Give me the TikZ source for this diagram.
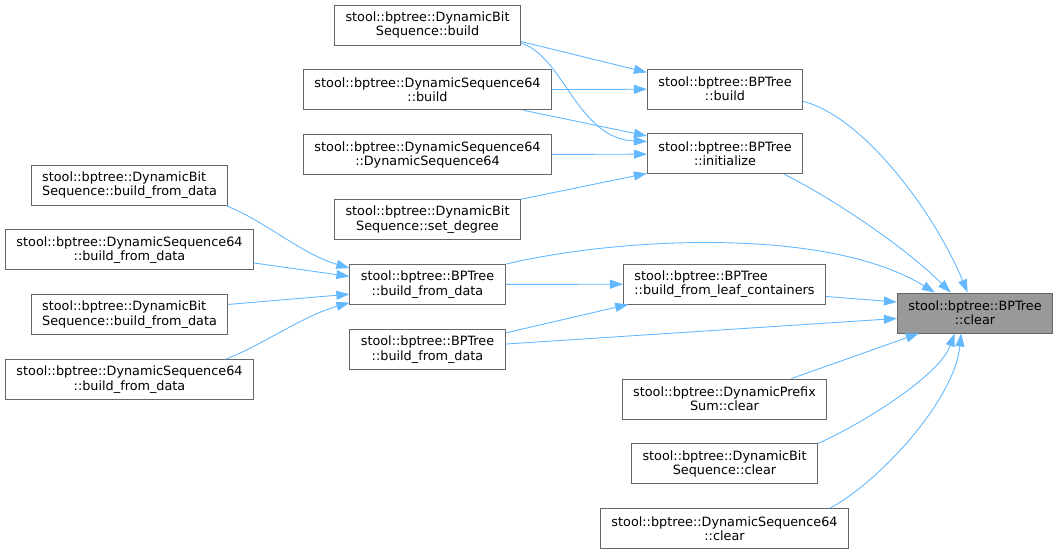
\documentclass[tikz,border=0pt]{standalone}
\usepackage{fontspec}
\setmainfont{DejaVu Sans}
\usetikzlibrary{positioning,arrows.meta}
\definecolor{nodeborder}{gray}{0.4}
\definecolor{selffill}{gray}{0.6}
\definecolor{callblue}{RGB}{99,184,255}

\begin{document}
\begin{tikzpicture}[x=1pt,y=-1pt,node distance=24pt,
  fn/.style={draw=nodeborder,fill=white,line width=0.9pt,minimum height=40pt,
    inner xsep=11pt,inner ysep=2pt,align=center,
    font=\fontsize{12.8}{14.4}\selectfont},
  fnleft/.style={fn,align=left},
  fnself/.style={fn,fill=selffill},
  call/.style={draw=callblue,line width=0.9pt,-{Triangle[length=13pt,width=9pt]}}]
  \useasboundingbox (0,0) rectangle (1059,552);

  % --- Called function ---
  \node[fnself] (clear) at (975,313) {stool::bptree::BPTree\\::clear};

  % --- Left column ---
  \node[fnleft] (lbfd1) at (129.5,185) {stool::bptree::DynamicBit\\Sequence::build\_from\_data};
  \node[fn] (lds1) [below=of lbfd1] {stool::bptree::DynamicSequence64\\::build\_from\_data};
  \node[fnleft] (lbfd2) [below=of lds1] {stool::bptree::DynamicBit\\Sequence::build\_from\_data};
  \node[fn] (lds2) [below=of lbfd2] {stool::bptree::DynamicSequence64\\::build\_from\_data};

  % --- Second column ---
  \node[fn] (dbsbuild) at (427.5,25) {stool::bptree::DynamicBit\\Sequence::build};
  \node[fn] (ds64build) [below=of dbsbuild] {stool::bptree::DynamicSequence64\\::build};
  \node[fn] (ds64ds64) [below=of ds64build] {stool::bptree::DynamicSequence64\\::DynamicSequence64};
  \node[fn] (setdeg) [below=of ds64ds64] {stool::bptree::DynamicBit\\Sequence::set\_degree};
  \node[fn] (bpbfd) [below=of setdeg] {stool::bptree::BPTree\\::build\_from\_data};
  \node[fn] (bpbfd2) [below=of bpbfd] {stool::bptree::BPTree\\::build\_from\_data};

  % --- Third column ---
  \node[fn] (bpbuild) at (725,89) {stool::bptree::BPTree\\::build};
  \node[fn] (bpinit) [below=of bpbuild] {stool::bptree::BPTree\\::initialize};
  \node[fnleft] (leaf) at (724.5,284) {stool::bptree::BPTree\\::build\_from\_leaf\_containers};
  \node[fn] (prefix) at (724.5,399) {stool::bptree::DynamicPrefix\\Sum::clear};
  \node[fn] (dbsclear) [below=of prefix] {stool::bptree::DynamicBit\\Sequence::clear};
  \node[fn] (ds64clear) [below=of dbsclear] {stool::bptree::DynamicSequence64\\::clear};

  % --- Calls into build and initialize ---
  \draw[call] (dbsbuild.-10) -- (bpbuild.168);
  \draw[call] (dbsbuild.-11) .. controls +(43,13) and +(-70,-3) .. (bpinit.171);
  \draw[call] (ds64build) -- (bpbuild);
  \draw[call] (ds64build.-12) -- (bpinit.167);
  \draw[call] (ds64ds64) -- (bpinit);
  \draw[call] (setdeg.north east) -- (bpinit.194);

  % --- Calls into build_from_data ---
  \draw[call] (lbfd1.-12) .. controls +(40,16) and +(-48,-14) .. (bpbfd.168);
  \draw[call] (lds1.-6) -- (bpbfd.174);
  \draw[call] (lbfd2.6) -- (bpbfd.187);
  \draw[call] (lds2.12) .. controls +(40,-16) and +(-48,14) .. (bpbfd.193);

  % --- Calls into build_from_leaf_containers ---
  \draw[call] (bpbfd) -- (leaf);
  \draw[call] (bpbfd2.12) -- (leaf.192);

  % --- Calls into clear ---
  \draw[call] (bpbuild.-9) .. controls +(60,15) and +(-33,-80) .. (clear.110);
  \draw[call] (bpinit.-19) .. controls +(50,25) and +(-45,-45) .. (clear.140);
  \draw[call] (bpbfd.north east) .. controls +(114,-27) and +(-107,-66) .. (clear.153);
  \draw[call] (leaf.-7) -- (clear.172);
  \draw[call] (bpbfd2.4) -- (clear.184);
  \draw[call] (prefix.17) -- (clear.200);
  \draw[call] (dbsclear.north east) .. controls +(45,-20) and +(-15,42) .. (clear.225);
  \draw[call] (ds64clear.11) .. controls +(50,-27) and +(-7,67) .. (clear.236);
\end{tikzpicture}
\end{document}
